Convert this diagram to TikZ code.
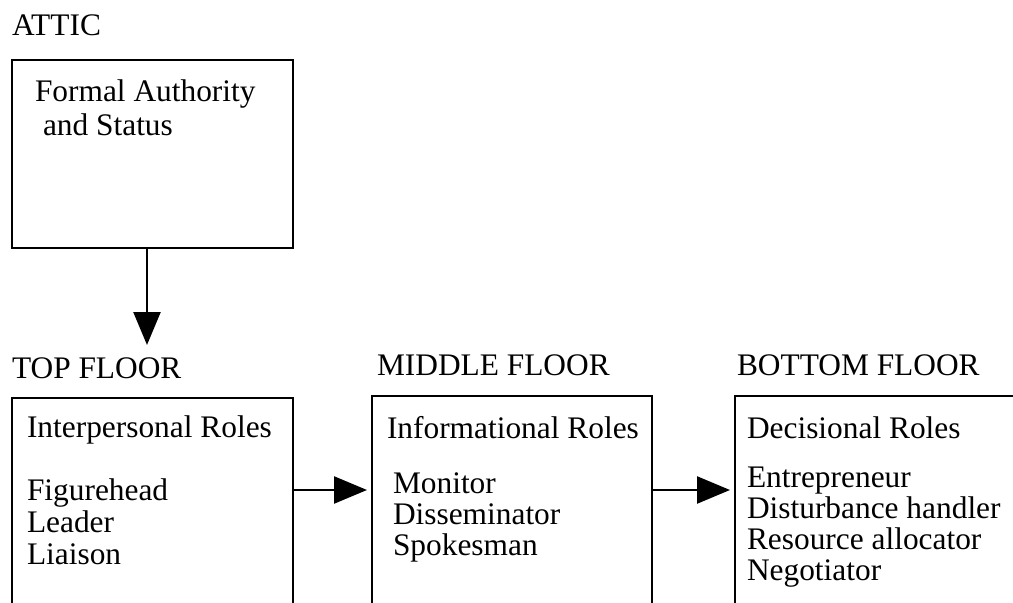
\documentclass[tikz,border=0pt]{standalone}
\usepackage{fontspec}
\setmainfont{Liberation Serif}
\usetikzlibrary{arrows.meta}
\usetikzlibrary{positioning}

\begin{document}
\begin{tikzpicture}
  [x=1bp,y=-1bp,line width=2.4bp,
   every node/.style={font=\fontsize{31.5}{32}\selectfont,inner sep=0pt,outer sep=0pt},
   floor/.style={draw,rectangle,anchor=north west,minimum width=281bp,minimum height=300bp},
   txt/.style={anchor=base west},
   arr/.style={-{Triangle[length=33bp,width=27bp]}}]
  \useasboundingbox (0,0) rectangle (1013,603);
  \clip (0,0) rectangle (1013,603);

  % floors
  \node[floor,minimum height=188bp] (attic) at (12,60) {};
  \node[floor] (top) at (12,398) {};
  \node[floor,minimum width=280bp] (mid) at (372,396) {};
  \node[floor,minimum width=400bp] (bot) at (735,396) {};

  % floor names
  \node[txt] (atticlbl) at (12,36) {ATTIC};
  \node[txt] (toplbl) at (12,378) {TOP FLOOR};
  \node[txt] (midlbl) at (377,375) {MIDDLE FLOOR};
  \node[txt] (botlbl) at (737,375) {BOTTOM FLOOR};

  % contents
  \node[txt] (auth) at (35,102) {Formal Authority};
  \node[txt] (status) at (43,136) {and Status};
  \node[txt] (inter) at (27,437) {Interpersonal Roles};
  \node[txt] (info) at (387,438) {Informational Roles};
  \node[txt] (dec) at (747,438) {Decisional Roles};
  \foreach \role [count=\i] in {Figurehead,Leader,Liaison}
    \node[txt] (inter\i) at (27,{500+32*(\i-1)}) {\role};
  \foreach \role [count=\i] in {Monitor,Disseminator,Spokesman}
    \node[txt] (info\i) at (393,{493+31*(\i-1)}) {\role};
  \foreach \role [count=\i] in {Entrepreneur,Disturbance handler,Resource allocator,Negotiator}
    \node[txt] (dec\i) at (747,{487+31*(\i-1)}) {\role};

  % arrows
  \coordinate (drop) at (147,345);
  \coordinate (row) at (0,490);
  \draw[arr] (attic.south -| drop) -- (drop);
  \draw[arr,shorten >=5bp] (top.east |- row) -- (mid.west |- row);
  \draw[arr,shorten >=5bp] (mid.east |- row) -- (bot.west |- row);
\end{tikzpicture}
\end{document}
